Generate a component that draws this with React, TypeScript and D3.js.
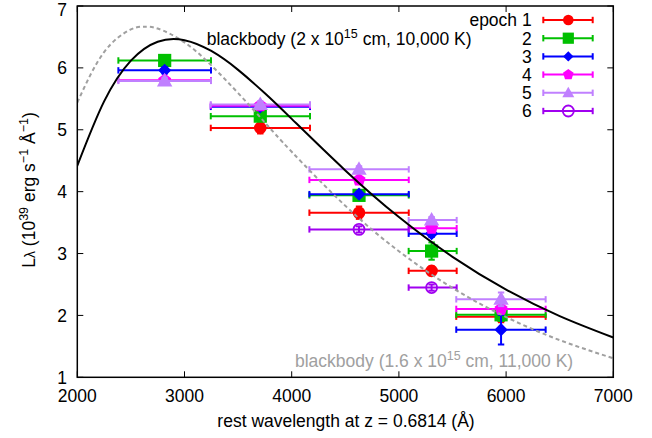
import React from 'react';
import * as d3 from 'd3';

// Photometric bands (rest wavelength, Å)
const bandLo = [2383, 3245, 4165, 5091, 5535];
const bandHi = [3247, 4171, 5092, 5539, 6369];
const bandMid = [2815, 3707, 4628, 5305, 5953];

// L_lambda (1e39 erg/s/Å) per epoch per band (null = no data)
const epoch1 = [null, 5.03, 3.66, 2.72, 1.98];
const epoch2 = [6.12, 5.22, 3.94, 3.04, 2.01];
const epoch3 = [5.96, 5.37, 3.96, 3.32, 1.77];
const epoch4 = [5.80, 5.39, 4.19, 3.41, 2.105];
const epoch5 = [5.79, 5.41, 4.36, 3.54, 2.26];
const epoch6 = [null, null, 3.39, 2.45, null];

const err1 = [0, 0.09, 0.1, 0.07, 0.09];
const err2 = [0.05, 0.06, 0.05, 0.14, 0.1];
const err3 = [0.05, 0.04, 0.04, 0.05, 0.24];
const err4 = [0.04, 0.04, 0.04, 0.05, 0.08];
const err5 = [0.05, 0.05, 0.05, 0.05, 0.11];
const err6 = [0, 0, 0.05, 0.05, 0];

const epochNames = ['epoch 1', '2', '3', '4', '5', '6'];
const epochColors = ['#ff0000', '#00c000', '#0000ff', '#ff00ff', '#c080ff', '#a000f0'];
const epochMarkers = ['circle', 'square', 'diamond', 'pentagon', 'triangle', 'opencircle'];

// Blackbody curves
const bbAWave = [2000, 2250, 2500, 2750, 3000, 3250, 3500, 3750, 4000, 4500, 5000, 5500, 6000, 6500, 7000];
const bbALum = [4.418, 5.458, 6.117, 6.423, 6.448, 6.273, 5.968, 5.589, 5.176, 4.343, 3.589, 2.947, 2.418, 1.989, 1.643];
const bbBWave = [2000, 2250, 2500, 2625, 2750, 3000, 3250, 3500, 3750, 4000, 4500, 5000, 5500, 6000, 6500, 7000];
const bbBLum = [5.441, 6.255, 6.621, 6.665, 6.636, 6.412, 6.040, 5.593, 5.117, 4.644, 3.772, 3.037, 2.444, 1.973, 1.601, 1.307];

const xTicks = [2000, 3000, 4000, 5000, 6000, 7000];
const yTicks = [1, 2, 3, 4, 5, 6, 7];

const W = 652, H = 438;
const L = 77.3, R = 613.3, T = 6, B = 377.3;
const FONT = '"Liberation Sans", Arial, Helvetica, sans-serif';
const FS = 17.5;

function Marker({ type, color, x, y }: { type: string; color: string; x: number; y: number }) {
  if (type === 'circle') return <circle cx={x} cy={y} r={5.3} fill={color} />;
  if (type === 'square') return <rect x={x - 5.6} y={y - 5.6} width={11.2} height={11.2} fill={color} />;
  if (type === 'diamond') {
    const s = 5.2;
    return <path d={`M${x},${y - s}L${x + s},${y}L${x},${y + s}L${x - s},${y}Z`} fill={color} />;
  }
  if (type === 'pentagon') {
    const r = 5.6;
    const pts = d3.range(5).map(i => {
      const a = -Math.PI / 2 + (i * 2 * Math.PI) / 5;
      return [x + r * Math.cos(a), y + r * Math.sin(a)];
    });
    return <path d={'M' + pts.map(p => p.join(',')).join('L') + 'Z'} fill={color} />;
  }
  if (type === 'triangle') {
    const s = 6;
    return <path d={`M${x},${y - s}L${x + s},${y + s * 0.75}L${x - s},${y + s * 0.75}Z`} fill={color} />;
  }
  return <circle cx={x} cy={y} r={5.5} fill="none" stroke={color} strokeWidth={1.8} />;
}

export default function App() {
  const x = d3.scaleLinear().domain([2000, 7000]).range([L, R]);
  const y = d3.scaleLinear().domain([1, 7]).range([B, T]);

  const epochs = [epoch1, epoch2, epoch3, epoch4, epoch5, epoch6];
  const errs = [err1, err2, err3, err4, err5, err6];

  const lineA = d3
    .line<number>()
    .x((_, i) => x(bbAWave[i]))
    .y(d => y(d))
    .curve(d3.curveNatural);
  const lineB = d3
    .line<number>()
    .x((_, i) => x(bbBWave[i]))
    .y(d => y(d))
    .curve(d3.curveNatural);

  const cap = 3.2;

  return (
    <div style={{ position: 'absolute', left: 0, top: 0 }}>
      <svg width={W} height={H} style={{ display: 'block', fontFamily: FONT }}>
        <rect width={W} height={H} fill="#ffffff" />
        <defs>
          <clipPath id="plotClip">
            <rect x={L} y={T} width={R - L} height={B - T} />
          </clipPath>
        </defs>

        {/* data */}
        <g>
          {epochs.map((vals, ei) =>
            vals.map((v, bi) => {
              if (v === null) return null;
              const c = epochColors[ei];
              const px = x(bandMid[bi]);
              const py = y(v);
              const x0 = x(bandLo[bi]);
              const x1 = x(bandHi[bi]);
              const e = errs[ei][bi];
              const yTop = y(v + e);
              const yBot = y(v - e);
              return (
                <g key={`${ei}-${bi}`} stroke={c} strokeWidth={2}>
                  <line x1={x0} x2={x1} y1={py} y2={py} />
                  <line x1={x0} x2={x0} y1={py - cap} y2={py + cap} />
                  <line x1={x1} x2={x1} y1={py - cap} y2={py + cap} />
                  {e > 0 && (
                    <>
                      <line x1={px} x2={px} y1={yTop} y2={yBot} />
                      <line x1={px - cap} x2={px + cap} y1={yTop} y2={yTop} />
                      <line x1={px - cap} x2={px + cap} y1={yBot} y2={yBot} />
                    </>
                  )}
                  <Marker type={epochMarkers[ei]} color={c} x={px} y={py} />
                </g>
              );
            })
          )}
        </g>

        {/* blackbody curves */}
        <g clipPath="url(#plotClip)">
          <path d={lineB(bbBLum) || ''} fill="none" stroke="#a0a0a0" strokeWidth={2} strokeDasharray="4,3" />
          <path d={lineA(bbALum) || ''} fill="none" stroke="#000000" strokeWidth={2} />
        </g>

        {/* frame */}
        <rect x={L} y={T} width={R - L} height={B - T} fill="none" stroke="#000" strokeWidth={1.5} />
        {xTicks.map(t => (
          <g key={'xt' + t} stroke="#000" strokeWidth={1}>
            <line x1={x(t)} x2={x(t)} y1={B} y2={B - 6} />
            <line x1={x(t)} x2={x(t)} y1={T} y2={T + 6} />
          </g>
        ))}
        {yTicks.map(t => (
          <g key={'yt' + t} stroke="#000" strokeWidth={1}>
            <line x1={L} x2={L + 6} y1={y(t)} y2={y(t)} />
            <line x1={R} x2={R - 6} y1={y(t)} y2={y(t)} />
          </g>
        ))}
        {xTicks.map(t => (
          <text key={'xl' + t} x={x(t)} y={402} textAnchor="middle" fontSize={FS} fill="#000">
            {t}
          </text>
        ))}
        {yTicks.map(t => (
          <text key={'yl' + t} x={67} y={Math.max(y(t) + 6.3, 15.5)} textAnchor="end" fontSize={FS} fill="#000">
            {t}
          </text>
        ))}

        {/* axis labels */}
        <text x={346} y={427} textAnchor="middle" fontSize={FS} fill="#000">
          rest wavelength at z = 0.6814 (Å)
        </text>
        <text transform="translate(34.5,190) rotate(-90)" textAnchor="middle" fontSize={FS} fill="#000">
          <tspan>L</tspan>
          <tspan fontSize={14}>λ</tspan>
          <tspan> (10</tspan>
          <tspan fontSize={12.5} dy={-7}>39</tspan>
          <tspan dy={7}> erg s</tspan>
          <tspan fontSize={12.5} dy={-7}>−1</tspan>
          <tspan dy={7}> Å</tspan>
          <tspan fontSize={12.5} dy={-7}>−1</tspan>
          <tspan dy={7}>)</tspan>
        </text>

        {/* curve labels */}
        <text x={206.7} y={45} fontSize={FS} fill="#000">
          <tspan>blackbody (2 x 10</tspan>
          <tspan fontSize={12.5} dy={-7}>15</tspan>
          <tspan dy={7}> cm, 10,000 K)</tspan>
        </text>
        <text x={295} y={366.7} fontSize={FS} fill="#a0a0a0">
          <tspan>blackbody (1.6 x 10</tspan>
          <tspan fontSize={12.5} dy={-7}>15</tspan>
          <tspan dy={7}> cm, 11,000 K)</tspan>
        </text>

        {/* legend */}
        {epochNames.map((n, i) => {
          const cy = 20 + i * 18.2;
          const c = epochColors[i];
          return (
            <g key={'lg' + i}>
              <text x={531.7} y={cy + 6.3} textAnchor="end" fontSize={FS} fill="#000">
                {n}
              </text>
              <g stroke={c} strokeWidth={2}>
                <line x1={543.3} x2={592.7} y1={cy} y2={cy} />
                <line x1={543.3} x2={543.3} y1={cy - cap} y2={cy + cap} />
                <line x1={592.7} x2={592.7} y1={cy - cap} y2={cy + cap} />
              </g>
              <Marker type={epochMarkers[i]} color={c} x={568.3} y={cy} />
            </g>
          );
        })}
      </svg>
    </div>
  );
}
